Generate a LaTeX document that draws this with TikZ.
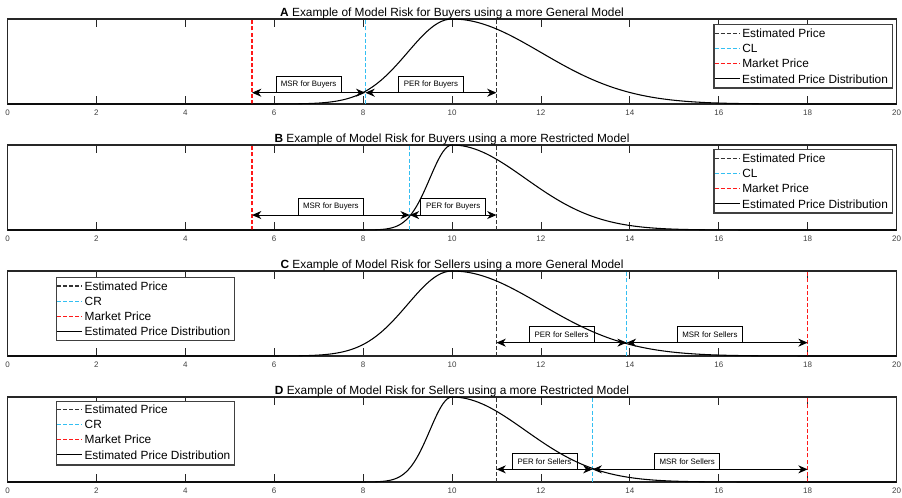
\documentclass[tikz,border=0pt]{standalone}
\usepackage{fontspec}
\setmainfont{Liberation Sans}
\usetikzlibrary{arrows.meta,positioning}
\definecolor{clcyan}{rgb}{0.20,0.75,0.95}
\definecolor{mpred}{rgb}{1,0.1,0.1}

\tikzset{
  frame/.style={line width=0.9pt, draw=black!85},
  axtick/.style={line width=0.6pt, draw=black!85},
  ticklbl/.style={font=\fontsize{6}{7}\selectfont, text=black!75, inner sep=0pt},
  ptitle/.style={font=\fontsize{8.9}{10}\selectfont, anchor=base, inner sep=0pt},
  dist/.style={line width=0.8pt, black},
  epline/.style={line width=1pt, black!80, dash pattern=on 3pt off 1.6pt},
  clline/.style={line width=1pt, clcyan, dash pattern=on 3pt off 1.6pt},
  mpline/.style={line width=1pt, mpred, dash pattern=on 3pt off 1.6pt},
  dblarrow/.style={{Stealth[length=7pt,width=6pt,inset=2.2pt]}-{Stealth[length=7pt,width=6pt,inset=2.2pt]}, line width=0.75pt},
  riskbox/.style={draw, fill=white, line width=0.6pt, font=\fontsize{5.9}{7}\selectfont,
    minimum width=48.8pt, minimum height=12.2pt, inner sep=0pt, outer sep=0pt},
  legbox/.style={draw=black!75, line width=0.9pt, fill=white, anchor=north west,
    minimum width=133.8pt, minimum height=47.5pt, inner sep=0pt},
  legtxt/.style={font=\fontsize{8.9}{10}\selectfont, text=black, anchor=west, inner sep=1.6pt}
}

\begin{document}
\begin{tikzpicture}[x=0.75pt, y=-0.75pt]
\useasboundingbox (0,0) rectangle (902,497);

% ---------- A ----------
\begin{scope}[shift={(7.5,104)}, x=33.34pt, y=63.75pt]
  \draw[frame] (0,0) rectangle (20,1);
  \foreach \t in {0,2,...,20} {
    \draw[axtick] (\t,0) -- (\t,0.094) (\t,1) -- (\t,0.906);
    \node[ticklbl] at (\t,-0.1) {\t};
  }
  \node[ptitle] (titA) at (10,1.035) {\textbf{A} Example of Model Risk for Buyers using a more General Model};
  \draw[mpline] (5.5,0) -- (5.5,1);
  \draw[clline] (8.05,0) -- (8.05,1);
  \draw[epline] (11,0) -- (11,1);
  \coordinate (mpA) at (5.5,0.133);
  \coordinate (clA) at (8.05,0.133);
  \coordinate (epA) at (11,0.133);
  \draw[dblarrow] (mpA) -- node[riskbox, above] (msrA) {MSR for Buyers} (clA);
  \draw[dblarrow] (clA) -- node[riskbox, above] (perA) {PER for Buyers} (epA);
  \draw[dist] (0,0) -- (6,0) -- plot[domain=6:10, samples=50, smooth] (\x,{exp(-(\x-10)^2/2)})
    -- plot[domain=10:20, samples=60, smooth] (\x,{exp(-(\x-10)^2/8)});
\end{scope}
\node[legbox] (legA) at (713.3,24) {};
\coordinate (la1) at (714.5,33.3);
\coordinate[below=11.4pt of la1] (la2);
\coordinate[below=11.4pt of la2] (la3);
\coordinate[below=11.4pt of la3] (la4);
\draw[epline] (la1) -- ++(25,0) node[legtxt] {Estimated Price};
\draw[clline] (la2) -- ++(25,0) node[legtxt] {CL};
\draw[mpline] (la3) -- ++(25,0) node[legtxt] {Market Price};
\draw[dist] (la4) -- ++(25,0) node[legtxt] {Estimated Price Distribution};

% ---------- B ----------
\begin{scope}[shift={(7.5,230)}, x=33.34pt, y=63.75pt]
  \draw[frame] (0,0) rectangle (20,1);
  \foreach \t in {0,2,...,20} {
    \draw[axtick] (\t,0) -- (\t,0.094) (\t,1) -- (\t,0.906);
    \node[ticklbl] at (\t,-0.1) {\t};
  }
  \node[ptitle] (titB) at (10,1.035) {\textbf{B} Example of Model Risk for Buyers using a more Restricted Model};
  \draw[mpline] (5.5,0) -- (5.5,1);
  \draw[clline] (9.05,0) -- (9.05,1);
  \draw[epline] (11,0) -- (11,1);
  \coordinate (mpB) at (5.5,0.176);
  \coordinate (clB) at (9.05,0.176);
  \coordinate (epB) at (11,0.176);
  \draw[dblarrow] (mpB) -- node[riskbox, above] (msrB) {MSR for Buyers} (clB);
  \draw[dblarrow] (clB) -- node[riskbox, above] (perB) {PER for Buyers} (epB);
  \draw[dist] (0,0) -- (7.5,0) -- plot[domain=7.5:10, samples=50, smooth] (\x,{exp(-2*(\x-10)^2)})
    -- plot[domain=10:20, samples=60, smooth] (\x,{exp(-(\x-10)^2/5.445)});
\end{scope}
\node[legbox] (legB) at (713.3,149) {};
\coordinate (lb1) at (714.5,158.3);
\coordinate[below=11.4pt of lb1] (lb2);
\coordinate[below=11.4pt of lb2] (lb3);
\coordinate[below=11.4pt of lb3] (lb4);
\draw[epline] (lb1) -- ++(25,0) node[legtxt] {Estimated Price};
\draw[clline] (lb2) -- ++(25,0) node[legtxt] {CL};
\draw[mpline] (lb3) -- ++(25,0) node[legtxt] {Market Price};
\draw[dist] (lb4) -- ++(25,0) node[legtxt] {Estimated Price Distribution};

% ---------- C ----------
\begin{scope}[shift={(7.5,356)}, x=33.34pt, y=63.75pt]
  \draw[frame] (0,0) rectangle (20,1);
  \foreach \t in {0,2,...,20} {
    \draw[axtick] (\t,0) -- (\t,0.094) (\t,1) -- (\t,0.906);
    \node[ticklbl] at (\t,-0.1) {\t};
  }
  \node[ptitle] (titC) at (10,1.035) {\textbf{C} Example of Model Risk for Sellers using a more General Model};
  \draw[epline] (11,0) -- (11,1);
  \draw[clline] (13.93,0) -- (13.93,1);
  \draw[mpline] (18,0) -- (18,1);
  \coordinate (epC) at (11,0.157);
  \coordinate (crC) at (13.93,0.157);
  \coordinate (mpC) at (18,0.157);
  \draw[dblarrow] (epC) -- node[riskbox, above] (perC) {PER for Sellers} (crC);
  \draw[dblarrow] (crC) -- node[riskbox, above, pos=0.46] (msrC) {MSR for Sellers} (mpC);
  \draw[dist] (0,0) -- (6,0) -- plot[domain=6:10, samples=50, smooth] (\x,{exp(-(\x-10)^2/2)})
    -- plot[domain=10:20, samples=60, smooth] (\x,{exp(-(\x-10)^2/8)});
\end{scope}
\node[legbox] (legC) at (55.7,276.7) {};
\coordinate (lc1) at (56.9,286);
\coordinate[below=11.4pt of lc1] (lc2);
\coordinate[below=11.4pt of lc2] (lc3);
\coordinate[below=11.4pt of lc3] (lc4);
\draw[epline] (lc1) -- ++(25,0) node[legtxt] {Estimated Price};
\draw[clline] (lc2) -- ++(25,0) node[legtxt] {CR};
\draw[mpline] (lc3) -- ++(25,0) node[legtxt] {Market Price};
\draw[dist] (lc4) -- ++(25,0) node[legtxt] {Estimated Price Distribution};

% ---------- D ----------
\begin{scope}[shift={(7.5,482)}, x=33.34pt, y=63.75pt]
  \draw[frame] (0,0) rectangle (20,1);
  \foreach \t in {0,2,...,20} {
    \draw[axtick] (\t,0) -- (\t,0.094) (\t,1) -- (\t,0.906);
    \node[ticklbl] at (\t,-0.1) {\t};
  }
  \node[ptitle] (titD) at (10,1.035) {\textbf{D} Example of Model Risk for Sellers using a more Restricted Model};
  \draw[epline] (11,0) -- (11,1);
  \draw[clline] (13.16,0) -- (13.16,1);
  \draw[mpline] (18,0) -- (18,1);
  \coordinate (epD) at (11,0.149);
  \coordinate (crD) at (13.16,0.149);
  \coordinate (mpD) at (18,0.149);
  \draw[dblarrow] (epD) -- node[riskbox, above] (perD) {PER for Sellers} (crD);
  \draw[dblarrow] (crD) -- node[riskbox, above, pos=0.44] (msrD) {MSR for Sellers} (mpD);
  \draw[dist] (0,0) -- (7.5,0) -- plot[domain=7.5:10, samples=50, smooth] (\x,{exp(-2*(\x-10)^2)})
    -- plot[domain=10:20, samples=60, smooth] (\x,{exp(-(\x-10)^2/5.445)});
\end{scope}
\node[legbox] (legD) at (55.7,401) {};
\coordinate (ld1) at (56.9,409.3);
\coordinate[below=11.4pt of ld1] (ld2);
\coordinate[below=11.4pt of ld2] (ld3);
\coordinate[below=11.4pt of ld3] (ld4);
\draw[epline] (ld1) -- ++(25,0) node[legtxt] {Estimated Price};
\draw[clline] (ld2) -- ++(25,0) node[legtxt] {CR};
\draw[mpline] (ld3) -- ++(25,0) node[legtxt] {Market Price};
\draw[dist] (ld4) -- ++(25,0) node[legtxt] {Estimated Price Distribution};
\end{tikzpicture}
\end{document}
